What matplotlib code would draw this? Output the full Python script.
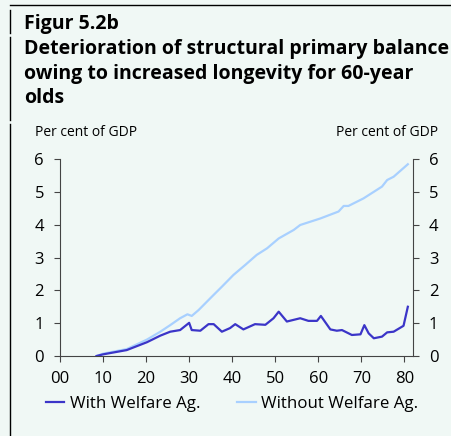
import matplotlib
matplotlib.use('Agg')
import matplotlib.pyplot as plt
from matplotlib.lines import Line2D

plt.rcParams['font.family'] = ['Open Sans', 'DejaVu Sans']

# years after 2000
with_x = [8.5, 10, 15.5, 20.2, 23.3, 25.6, 27.9, 30, 30.6, 32.6, 34.5, 35.7, 37.6, 39.5,
          40.7, 42.6, 45.3, 47.7, 49.6, 50.8, 52.7, 55.8, 57.7, 59.7, 60.6, 62.8, 64.3,
          65.5, 67.8, 69.8, 70.7, 71.7, 72.9, 74.8, 76, 77.5, 79.8, 80.8]
with_y = [0.0, 0.05, 0.18, 0.42, 0.62, 0.74, 0.79, 1.01, 0.79, 0.77, 0.97, 0.97, 0.74, 0.85,
          0.97, 0.81, 0.97, 0.95, 1.15, 1.35, 1.05, 1.15, 1.07, 1.07, 1.22, 0.81, 0.77,
          0.79, 0.64, 0.66, 0.94, 0.69, 0.54, 0.59, 0.72, 0.74, 0.92, 1.50]

without_x = [8.5, 10, 15.5, 20.2, 23.3, 25.6, 27.9, 29.6, 30.6, 32.2, 35.3, 37.6, 40.3, 43.0,
             45.7, 48.1, 50.8, 54.3, 55.8, 60.5, 64.7, 65.9, 67, 70.5, 74.8, 76, 77.5, 80.8]
without_y = [0.0, 0.07, 0.21, 0.5, 0.74, 0.94, 1.15, 1.27, 1.22, 1.40, 1.81, 2.11, 2.47, 2.77,
             3.08, 3.28, 3.58, 3.84, 3.99, 4.19, 4.40, 4.57, 4.57, 4.80, 5.16, 5.36, 5.46, 5.84]

xticks = [0, 10, 20, 30, 40, 50, 60, 70, 80]
xlabels = ['00', '10', '20', '30', '40', '50', '60', '70', '80']
yticks = [0, 1, 2, 3, 4, 5, 6]

bg = '#f0f8f5'
dark = '#3b35c8'
light = '#a8d0ff'
W, H = 452, 436

fig = plt.figure(figsize=(W / 100, H / 100), dpi=100, facecolor=bg)

# frame lines
fig.add_artist(Line2D([10 / W, 1], [1 - 5 / H, 1 - 5 / H], color='black', lw=1))
for y0, y1 in [(10, 33), (37, 120), (124, 436)]:
    fig.add_artist(Line2D([10 / W, 10 / W], [1 - y0 / H, 1 - y1 / H], color='black', lw=1))

title_lines = ['Figur 5.2b',
               'Deterioration of structural primary balance',
               'owing to increased longevity for 60-year',
               'olds']
for t, yb in zip(title_lines, [29, 54, 79, 103]):
    fig.text(24 / W, 1 - yb / H, t, fontsize=14, fontweight='bold', va='baseline',
             ha='left', color='black')

ax = fig.add_axes([60 / W, 1 - 356 / H, (413 - 60) / W, (356 - 159) / H])
ax.set_facecolor(bg)
ax.plot(without_x, without_y, color=light, lw=1.6, zorder=2, label='Without Welfare Ag.')
ax.plot(with_x, with_y, color=dark, lw=1.6, zorder=3, label='With Welfare Ag.')
ax.set_xlim(0, 82)
ax.set_ylim(0, 6)
ax.set_xticks(xticks)
ax.set_xticklabels(xlabels)
ax.set_yticks(yticks)
ax.spines['top'].set_visible(False)
for s in ['left', 'right', 'bottom']:
    ax.spines[s].set_color('#444444')
ax.tick_params(axis='both', labelsize=12, length=4.5, color='#444444')
ax.tick_params(axis='x', pad=6)
ax.tick_params(axis='y', right=True, labelright=True, pad=7)

fig.text(35 / W, 1 - 133 / H, 'Per cent of GDP', fontsize=10, va='center', ha='left')
fig.text(438 / W, 1 - 133 / H, 'Per cent of GDP', fontsize=10, va='center', ha='right')

h, l = ax.get_legend_handles_labels()
fig.legend([h[1], h[0]], [l[1], l[0]], loc='center', bbox_to_anchor=(232 / W, 1 - 404 / H),
           ncol=2, frameon=False, fontsize=12.2, handlelength=1.1, handletextpad=0.3,
           columnspacing=2.2)

fig.savefig('out.png', dpi=100, facecolor=bg)
